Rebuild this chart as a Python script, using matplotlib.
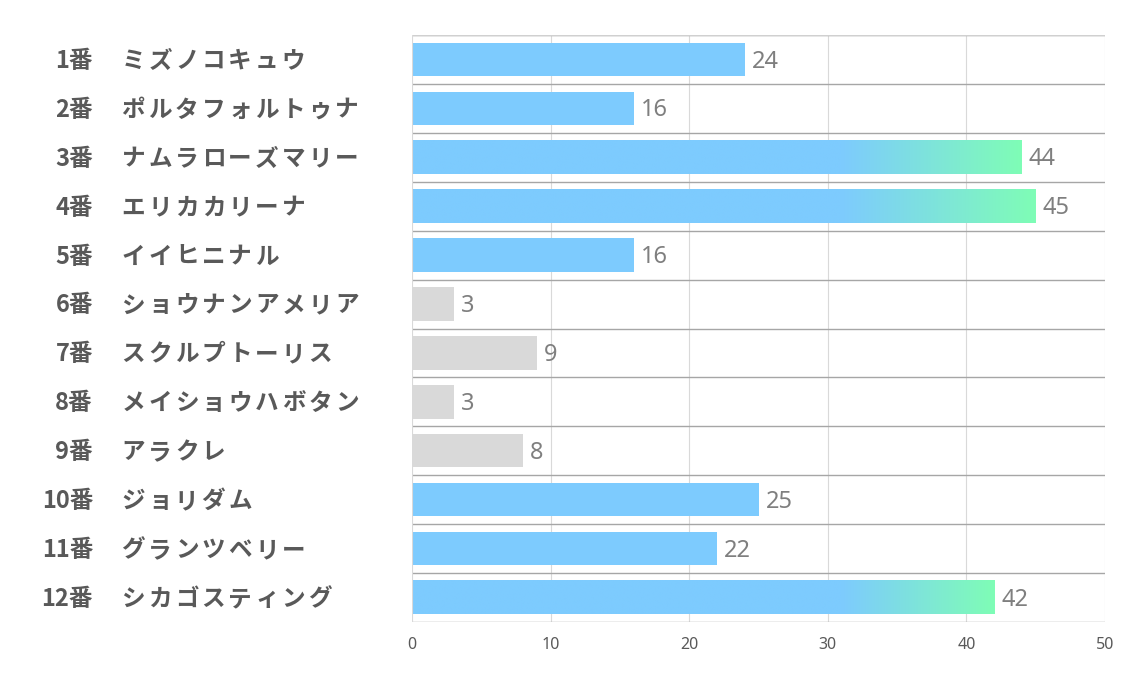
import numpy as np
import matplotlib
matplotlib.use('Agg')
import matplotlib.pyplot as plt
from matplotlib.transforms import blended_transform_factory, offset_copy
from matplotlib.colors import to_rgb

plt.rcParams['font.family'] = ['Noto Sans CJK JP', 'DejaVu Sans']

numbers = ['1番', '2番', '3番', '4番', '5番', '6番', '7番', '8番', '9番', '10番', '11番', '12番']
names = ['ミズノコキュウ', 'ポルタフォルトゥナ', 'ナムラローズマリー', 'エリカカリーナ', 'イイヒニナル',
         'ショウナンアメリア', 'スクルプトーリス', 'メイショウハボタン', 'アラクレ', 'ジョリダム',
         'グランツベリー', 'シカゴスティング']
values = [24, 16, 44, 45, 16, 3, 9, 3, 8, 25, 22, 42]

blue = '#7DCBFE'
green = '#7FFDB6'
gray = '#D9D9D9'
txt_dark = '#595959'
txt_val = '#7F7F7F'

fig = plt.figure(figsize=(11.34, 6.8), dpi=100)
ax = fig.add_axes([412/1134, 1-622/680, (1105-412)/1134, (622-35)/680])

bar_h = 0.68
ypos = np.arange(len(values))

for y, v in zip(ypos, values):
    if v < 10:
        ax.barh(y, v, height=bar_h, color=gray, zorder=2)
    elif v < 40:
        ax.barh(y, v, height=bar_h, color=blue, zorder=2)
    else:
        # blue -> green gradient on the last part of the bar
        n = 400
        t = np.linspace(0, 1, n)
        start = 31.0 / v
        f = np.clip((t - start) / (1 - start), 0, 1)
        c0 = np.array(to_rgb(blue))
        c1 = np.array(to_rgb(green))
        row = c0[None, :] * (1 - f[:, None]) + c1[None, :] * f[:, None]
        img = row[None, :, :]
        ax.imshow(img, extent=(0, v, y + bar_h/2, y - bar_h/2), aspect='auto',
                  interpolation='bilinear', zorder=2)
    ax.annotate(str(v), (v, y), xytext=(5, -1.5), textcoords='offset points',
                ha='left', va='center', fontsize=17, color=txt_val,
                family=['Noto Sans', 'DejaVu Sans'])

ax.set_xlim(0, 50)
ax.set_ylim(len(values) - 0.5, -0.5)
ax.set_xticks([0, 10, 20, 30, 40, 50])
ax.set_yticks([])
ax.tick_params(axis='x', length=0, labelsize=11.5, labelcolor=txt_dark, pad=11)
for lab in ax.get_xticklabels():
    lab.set_family(['Noto Sans', 'DejaVu Sans'])

for x in [10, 20, 30, 40, 50]:
    ax.axvline(x, color='#D9D9D9', lw=0.8, zorder=1)
ax.axvline(0, color='#D9D9D9', lw=0.8, zorder=3)
for k in range(len(values) + 1):
    ax.axhline(k - 0.5, color='#A6A6A6', lw=1.0, zorder=1)
ax.axhline(-0.5, color='#D0D0D0', lw=1.0, zorder=1)

for s in ax.spines.values():
    s.set_visible(False)

trans = blended_transform_factory(fig.transFigure, ax.transData)
trans = offset_copy(trans, fig=fig, x=0, y=-1, units='points')
slot = 26.7 / 1134  # full-width character pitch of the names
for y, num, name in zip(ypos, numbers, names):
    ax.text(93/1134, y, num, transform=trans, ha='right', va='center',
            fontsize=17, fontweight='bold', color=txt_dark)
    for i, ch in enumerate(name):
        ax.text(120/1134 + (i + 0.5) * slot, y, ch, transform=trans, ha='center',
                va='center', fontsize=17, fontweight='bold', color=txt_dark)

fig.savefig('out.png', dpi=100, facecolor='white')
